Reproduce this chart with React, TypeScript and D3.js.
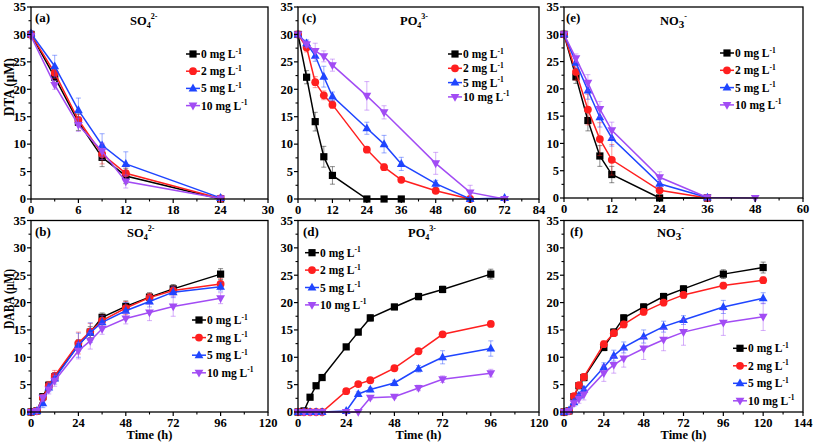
import React from 'react';
import * as d3 from 'd3';

const FONT = '"Liberation Serif", "Times New Roman", serif';

// ---------- legend / style ----------
const seriesDose = ['0', '2', '5', '10'];
const seriesColors = ['#000000', '#ff1f1f', '#1f45ff', '#a24cf4'];
const seriesShapes = ['square', 'circle', 'triangle', 'triangleDown'];

// ---------- (a) DTA, SO4 ----------
const tA = [0, 3, 6, 9, 12, 24];
const a0 = [30, 22.2, 14.0, 7.6, 4.2, 0];
const a2 = [30, 23.0, 14.4, 8.2, 4.7, 0.1];
const a5 = [30.2, 24.2, 16.2, 9.8, 6.4, 0.2];
const a10 = [29.7, 20.8, 13.5, 8.7, 3.2, 0.1];
const a0E = [0.5, 1.2, 1.5, 1.7, 1.4, 0.2];
const a2E = [0.5, 1.0, 1.0, 1.8, 1.2, 0.2];
const a5E = [0.5, 2.0, 2.2, 2.1, 2.2, 0.2];
const a10E = [0.5, 0.8, 1.2, 1.5, 1.2, 0.2];

// ---------- (c) DTA, PO4 ----------
const tC0 = [0, 3, 6, 9, 12, 24, 30, 36];
const c0 = [30, 22.2, 14.1, 7.7, 4.3, 0, 0, 0];
const c0E = [0.3, 1.2, 1.7, 1.9, 1.6, 0, 0, 0];
const tC2 = [0, 3, 6, 9, 12, 24, 30, 36, 48, 60];
const c2 = [30, 27.6, 21.3, 18.9, 17.2, 9.0, 5.8, 3.5, 1.5, 0];
const c2E = [0.3, 0.8, 1.0, 0.8, 0.7, 0.5, 0.6, 0.4, 0.5, 0.2];
const tC5 = [0, 3, 6, 9, 12, 24, 30, 36, 48, 60, 72];
const c5 = [30, 28.4, 26.1, 22.3, 18.7, 12.9, 10.0, 6.4, 2.8, 0, 0.2];
const c5E = [0.3, 0.6, 1.0, 1.9, 0.8, 1.1, 1.6, 1.2, 0.6, 0.2, 0.2];
const tC10 = [0, 3, 6, 9, 12, 24, 30, 48, 60, 72];
const c10 = [30, 28.2, 27.0, 26.0, 24.4, 18.8, 15.8, 6.5, 1.2, 0];
const c10E = [0.3, 0.6, 1.4, 1.0, 1.1, 2.6, 1.2, 2.0, 1.3, 0.2];

// ---------- (e) DTA, NO3 ----------
const tE = [0, 3, 6, 9, 12, 24, 36];
const tE10 = [0, 3, 6, 9, 12, 24, 36, 48];
const e0 = [30, 22.2, 14.2, 7.7, 4.3, 0, 0];
const e2 = [30, 23.1, 16.2, 10.8, 7.0, 1.4, 0];
const e5 = [30, 24.8, 19.7, 14.8, 11.0, 2.6, 0.1];
const e10 = [30, 25.6, 21.1, 16.3, 12.4, 3.8, 0.1, 0];
const e0E = [0.3, 1.2, 1.9, 1.9, 1.5, 0.2, 0.2];
const e2E = [0.3, 1.5, 2.8, 3.0, 2.8, 1.2, 0.2];
const e5E = [0.3, 1.0, 1.6, 1.8, 1.5, 0.8, 0.2];
const e10E = [0.3, 0.8, 1.5, 1.4, 1.5, 1.0, 0.3, 0.1];

// ---------- (b) DABA, SO4 ----------
const tB = [0, 3, 6, 9, 12, 24, 30, 36, 48, 60, 72, 96];
const b0 = [0, 0.2, 2.8, 4.9, 6.4, 12.2, 14.6, 17.3, 19.3, 21.0, 22.5, 25.2];
const b2 = [0, 0.2, 2.6, 4.8, 6.6, 12.6, 14.7, 16.7, 19.0, 20.9, 22.2, 23.4];
const b5 = [0, 0.2, 1.6, 4.5, 6.1, 12.2, 14.5, 16.4, 18.5, 20.2, 21.9, 22.9];
const b10 = [0, 0.2, 2.6, 4.1, 5.7, 11.2, 13.0, 15.2, 17.1, 18.2, 19.3, 20.8];
const b0E = [0.2, 0.2, 0.5, 0.6, 0.8, 1.0, 1.0, 0.8, 1.0, 0.8, 0.8, 1.0];
const b2E = [0.2, 0.2, 0.6, 0.8, 1.0, 2.0, 1.5, 1.0, 1.2, 0.8, 0.8, 1.0];
const b5E = [0.2, 0.2, 0.8, 0.8, 1.0, 2.2, 1.8, 1.2, 1.5, 1.0, 1.0, 0.8];
const b10E = [0.2, 0.2, 0.6, 0.8, 1.0, 1.5, 1.5, 1.0, 1.0, 1.5, 1.8, 1.0];

// ---------- (d) DABA, PO4 ----------
const d0 = [0, 0.2, 2.7, 4.8, 6.3, 11.9, 14.6, 17.2, 19.2, 21.1, 22.4, 25.2];
const d2 = [0, 0, 0, 0, 0, 3.8, 5.1, 5.8, 8.0, 11.1, 14.2, 16.1];
const d5 = [0, 0, 0, 0, 0, 0.2, 3.3, 4.1, 5.3, 7.9, 10.0, 11.6];
const d10 = [0, 0, 0, 0, 0, 0, 0, 2.6, 2.8, 4.4, 6.0, 7.1];
const d0E = [0.2, 0.2, 0.3, 0.4, 0.4, 0.4, 0.5, 0.6, 0.5, 0.6, 0.6, 0.9];
const d2E = [0, 0, 0, 0, 0, 0.3, 0.3, 0.3, 0.4, 0.5, 0.5, 0.5];
const d5E = [0, 0, 0, 0, 0, 0.2, 0.4, 0.4, 0.5, 0.6, 1.2, 1.4];
const d10E = [0, 0, 0, 0, 0, 0, 0, 0.3, 0.3, 0.5, 0.6, 0.7];

// ---------- (f) DABA, NO3 ----------
const tF = [0, 3, 6, 9, 12, 24, 30, 36, 48, 60, 72, 96, 120];
const f0 = [0, 0.2, 2.8, 4.8, 6.3, 11.8, 14.6, 17.2, 19.2, 21.1, 22.5, 25.2, 26.4];
const f2 = [0, 0.2, 2.9, 4.9, 6.4, 12.4, 14.4, 16.0, 18.3, 20.0, 21.4, 23.1, 24.1];
const f5 = [0, 0.3, 1.8, 3.0, 4.1, 8.2, 10.3, 11.8, 13.8, 15.6, 16.8, 19.2, 20.8];
const f10 = [0, 0.2, 1.6, 2.4, 3.2, 7.1, 8.6, 9.8, 11.6, 13.2, 14.6, 16.3, 17.4];
const f0E = [0.2, 0.2, 0.4, 0.5, 0.6, 0.6, 0.6, 0.6, 0.6, 0.6, 0.6, 0.8, 1.0];
const f2E = [0.2, 0.2, 0.4, 0.5, 0.6, 0.6, 0.6, 0.6, 0.6, 0.6, 0.6, 0.6, 0.6];
const f5E = [0.2, 0.2, 0.5, 0.6, 0.6, 0.8, 1.0, 1.0, 1.2, 1.0, 0.8, 1.2, 1.0];
const f10E = [0.2, 0.2, 0.6, 0.8, 1.0, 1.5, 1.5, 1.6, 2.0, 2.0, 2.4, 2.3, 2.5];

type Series = { t: number[]; v: number[]; e: number[] };
const S = (t: number[], v: number[], e: number[]): Series => ({ t, v, e });

function Marker({ shape, x, y, color }: { shape: string; x: number; y: number; color: string }) {
  if (shape === 'square') return <rect x={x - 3.6} y={y - 3.6} width={7.2} height={7.2} fill={color} />;
  if (shape === 'circle') return <circle cx={x} cy={y} r={3.9} fill={color} />;
  if (shape === 'triangle')
    return <path d={`M${x},${y - 4.8}L${x + 4.4},${y + 3}L${x - 4.4},${y + 3}Z`} fill={color} />;
  return <path d={`M${x},${y + 4.8}L${x + 4.4},${y - 3}L${x - 4.4},${y - 3}Z`} fill={color} />;
}

type Box = { x0: number; x1: number; y0: number; y1: number };

function Ion({ x, y, base, sub, sup, subSize }: any) {
  return (
    <text x={x} y={y} fontFamily={FONT} fontWeight="bold" fontSize={12.5} fill="#000">
      {base}
      <tspan fontSize={subSize || 8} dy={3}>{sub}</tspan>
      <tspan fontSize={8} dy={-9}>{sup}</tspan>
    </text>
  );
}

function Panel({
  box, xMax, xStep, series, letter, letterPos, ion, legend, timeLabel,
}: {
  box: Box; xMax: number; xStep: number; series: Series[]; letter: string;
  letterPos: [number, number]; ion: any; legend: { x: number; y: number; dy: number }; timeLabel?: boolean;
}) {
  const x = d3.scaleLinear().domain([0, xMax]).range([box.x0, box.x1]);
  const y = d3.scaleLinear().domain([0, 35]).range([box.y1, box.y0]);
  const xMajor = d3.range(0, xMax + 0.001, xStep);
  const xMinor = d3.range(xStep / 2, xMax, xStep);
  const yMajor = d3.range(0, 35.001, 5);
  const yMinor = d3.range(2.5, 35, 5);
  const line = d3.line<[number, number]>().x((d) => x(d[0])).y((d) => y(d[1]));
  const clampY = (v: number) => y(Math.max(0, Math.min(35, v)));
  return (
    <g>
      {series.map((s, si) => {
        const col = seriesColors[si];
        const pts: [number, number][] = s.t.map((t, i) => [t, s.v[i]]);
        return (
          <g key={si}>
            {s.t.map((t, i) =>
              s.e[i] > 0.15 ? (
                <g key={'e' + i} stroke={col} strokeOpacity={0.45} strokeWidth={1}>
                  <line x1={x(t)} x2={x(t)} y1={clampY(s.v[i] - s.e[i])} y2={clampY(s.v[i] + s.e[i])} />
                  <line x1={x(t) - 2.5} x2={x(t) + 2.5} y1={clampY(s.v[i] + s.e[i])} y2={clampY(s.v[i] + s.e[i])} />
                  {s.v[i] - s.e[i] > 0 && (
                    <line x1={x(t) - 2.5} x2={x(t) + 2.5} y1={clampY(s.v[i] - s.e[i])} y2={clampY(s.v[i] - s.e[i])} />
                  )}
                </g>
              ) : null
            )}
            <path d={line(pts) || ''} fill="none" stroke={col} strokeWidth={1.5} />
            {pts.map((p, i) => (
              <Marker key={'m' + i} shape={seriesShapes[si]} x={x(p[0])} y={y(p[1])} color={col} />
            ))}
          </g>
        );
      })}
      <rect x={box.x0} y={box.y0} width={box.x1 - box.x0} height={box.y1 - box.y0} fill="none" stroke="#000" strokeWidth={1.3} />
      {xMajor.map((t) => (
        <g key={'xt' + t}>
          <line x1={x(t)} x2={x(t)} y1={box.y1} y2={box.y1 + 4} stroke="#000" strokeWidth={1.2} />
          <text x={x(t)} y={box.y1 + 14.5} textAnchor="middle" fontFamily={FONT} fontWeight="bold" fontSize={12.5}>{t}</text>
        </g>
      ))}
      {xMinor.map((t) => (
        <line key={'xm' + t} x1={x(t)} x2={x(t)} y1={box.y1} y2={box.y1 + 2.5} stroke="#000" strokeWidth={1.1} />
      ))}
      {yMajor.map((v) => (
        <g key={'yt' + v}>
          <line x1={box.x0 - 4} x2={box.x0} y1={y(v)} y2={y(v)} stroke="#000" strokeWidth={1.2} />
          <text x={box.x0 - 5} y={y(v) + 4.3} textAnchor="end" fontFamily={FONT} fontWeight="bold" fontSize={12.5}>{v}</text>
        </g>
      ))}
      {yMinor.map((v) => (
        <line key={'ym' + v} x1={box.x0 - 2.5} x2={box.x0} y1={y(v)} y2={y(v)} stroke="#000" strokeWidth={1.1} />
      ))}
      <text x={letterPos[0]} y={letterPos[1]} fontFamily={FONT} fontWeight="bold" fontSize={13}>{letter}</text>
      <Ion {...ion} />
      {seriesDose.map((n, i) => {
        const cy = legend.y + i * legend.dy;
        return (
          <g key={'lg' + i}>
            <line x1={legend.x} x2={legend.x + 14} y1={cy} y2={cy} stroke={seriesColors[i]} strokeWidth={1.5} />
            <Marker shape={seriesShapes[i]} x={legend.x + 7} y={cy} color={seriesColors[i]} />
            <text x={legend.x + 15} y={cy + 4} fontFamily={FONT} fontWeight="bold" fontSize={11.5}>
              {n} mg L<tspan fontSize={7.5} dy={-4.5}>-1</tspan>
            </text>
          </g>
        );
      })}
      {timeLabel && (
        <text x={(box.x0 + box.x1) / 2} y={439} textAnchor="middle" fontFamily={FONT} fontWeight="bold" fontSize={12.5}>
          Time (h)
        </text>
      )}
    </g>
  );
}

export default function App() {
  const boxA = { x0: 31, x1: 268, y0: 7, y1: 199 };
  const boxC = { x0: 298, x1: 539, y0: 7, y1: 199 };
  const boxE = { x0: 564, x1: 803, y0: 7, y1: 198 };
  const boxB = { x0: 31, x1: 268, y0: 220.5, y1: 412 };
  const boxD = { x0: 298, x1: 539, y0: 220.5, y1: 412 };
  const boxF = { x0: 564, x1: 803, y0: 220.5, y1: 412 };
  return (
    <svg width={813} height={442} style={{ position: 'absolute', left: 0, top: 0, background: '#fff' }}>
      <rect width={813} height={442} fill="#fff" />
      <Panel box={boxA} xMax={30} xStep={6}
        series={[S(tA, a0, a0E), S(tA, a2, a2E), S(tA, a5, a5E), S(tA, a10, a10E)]}
        letter="(a)" letterPos={[35, 22]}
        ion={{ x: 130, y: 25, base: 'SO', sub: '4', sup: '2-' }}
        legend={{ x: 186, y: 54, dy: 17.2 }} />
      <Panel box={boxC} xMax={84} xStep={12}
        series={[S(tC0, c0, c0E), S(tC2, c2, c2E), S(tC5, c5, c5E), S(tC10, c10, c10E)]}
        letter="(c)" letterPos={[302, 22]}
        ion={{ x: 400, y: 25, base: 'PO', sub: '4', sup: '3-' }}
        legend={{ x: 448, y: 54, dy: 14.3 }} />
      <Panel box={boxE} xMax={60} xStep={12}
        series={[S(tE, e0, e0E), S(tE, e2, e2E), S(tE, e5, e5E), S(tE10, e10, e10E)]}
        letter="(e)" letterPos={[566, 22]}
        ion={{ x: 660, y: 25, base: 'NO', sub: '3', sup: '-', subSize: 11 }}
        legend={{ x: 720, y: 53, dy: 17.3 }} />
      <Panel box={boxB} xMax={120} xStep={24}
        series={[S(tB, b0, b0E), S(tB, b2, b2E), S(tB, b5, b5E), S(tB, b10, b10E)]}
        letter="(b)" letterPos={[35, 236]}
        ion={{ x: 127, y: 237, base: 'SO', sub: '4', sup: '2-' }}
        legend={{ x: 192, y: 320, dy: 17.6 }} timeLabel />
      <Panel box={boxD} xMax={120} xStep={24}
        series={[S(tB, d0, d0E), S(tB, d2, d2E), S(tB, d5, d5E), S(tB, d10, d10E)]}
        letter="(d)" letterPos={[303, 236]}
        ion={{ x: 408, y: 237, base: 'PO', sub: '4', sup: '3-' }}
        legend={{ x: 305, y: 252.7, dy: 17.4 }} timeLabel />
      <Panel box={boxF} xMax={144} xStep={24}
        series={[S(tF, f0, f0E), S(tF, f2, f2E), S(tF, f5, f5E), S(tF, f10, f10E)]}
        letter="(f)" letterPos={[570, 236]}
        ion={{ x: 657, y: 237, base: 'NO', sub: '3', sup: '-', subSize: 11 }}
        legend={{ x: 733, y: 348.3, dy: 17.5 }} timeLabel />
      <text transform="translate(13.5,87) rotate(-90)" textAnchor="middle" fontFamily={FONT} fontWeight="bold"
        fontSize={14} textLength={58} lengthAdjust="spacingAndGlyphs">DTA (μM)</text>
      <text transform="translate(13.5,299) rotate(-90)" textAnchor="middle" fontFamily={FONT} fontWeight="bold"
        fontSize={14} textLength={60} lengthAdjust="spacingAndGlyphs">DABA (μM)</text>
    </svg>
  );
}
